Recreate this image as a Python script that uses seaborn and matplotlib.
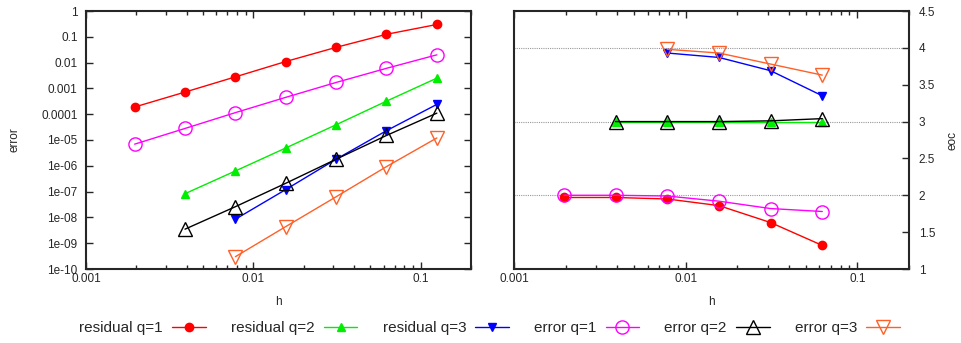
import matplotlib
matplotlib.use("Agg")
import matplotlib.pyplot as plt
import matplotlib.ticker as mticker
import numpy as np
import pandas as pd
import seaborn as sns

# mesh sizes
h = [1/512, 1/256, 1/128, 1/64, 1/32, 1/16, 1/8]

# residuals / errors (left panel), first index into h given by starts
res_q1 = [1.9e-4, 7.2e-4, 2.8e-3, 1.1e-2, 3.9e-2, 1.25e-1, 3.0e-1]
res_q2 = [8.3e-8, 6.3e-7, 4.9e-6, 3.9e-5, 3.2e-4, 2.5e-3]
res_q3 = [8.5e-9, 1.2e-7, 1.8e-6, 2.3e-5, 2.4e-4]
err_q1 = [6.9e-6, 2.8e-5, 1.15e-4, 4.5e-4, 1.7e-3, 6.0e-3, 2.0e-2]
err_q2 = [3.5e-9, 2.6e-8, 2.1e-7, 1.8e-6, 1.5e-5, 1.1e-4]
err_q3 = [3.0e-10, 4.4e-9, 6.3e-8, 9.3e-7, 1.2e-5]
starts = [0, 1, 2, 0, 1, 2]

# experimental orders of convergence (right panel)
eoc_res_q1 = [1.97, 1.97, 1.95, 1.86, 1.63, 1.32]
eoc_res_q2 = [3.00, 3.00, 3.00, 3.00, 3.00]
eoc_res_q3 = [3.93, 3.87, 3.69, 3.35]
eoc_err_q1 = [2.00, 2.00, 1.99, 1.92, 1.82, 1.78]
eoc_err_q2 = [3.00, 3.00, 3.00, 3.01, 3.04]
eoc_err_q3 = [3.98, 3.93, 3.78, 3.63]
eoc_ref = [2, 3, 4]

labels = ["residual q=1", "residual q=2", "residual q=3",
          "error q=1", "error q=2", "error q=3"]
colors = ["#ff0000", "#00ee00", "#0000ff", "#ff00ff", "#000000", "#ff6028"]
markers = ["o", "^", "v", "o", "^", "v"]
filled = [True, True, True, False, False, False]
msizes = [6, 6, 6, 9.5, 9.5, 9.5]

errs = [res_q1, res_q2, res_q3, err_q1, err_q2, err_q3]
eocs = [eoc_res_q1, eoc_res_q2, eoc_res_q3, eoc_err_q1, eoc_err_q2, eoc_err_q3]

sns.set_style("ticks")
plt.rcParams["font.family"] = ["Liberation Sans", "DejaVu Sans"]
plt.rcParams["axes.linewidth"] = 1.5
plt.rcParams["xtick.direction"] = "in"
plt.rcParams["ytick.direction"] = "in"

fig = plt.figure(figsize=(9.62, 3.43), dpi=100)
W, H = 962, 343
ax1 = fig.add_axes([86/W, (H-269)/H, 385/W, 258/H])
ax2 = fig.add_axes([514/W, (H-269)/H, 395/W, 258/H])

for y in eoc_ref:
    ax2.axhline(y, color="#999999", ls=(0, (1, 1)), lw=0.8, zorder=0)

for i in range(6):
    s = starts[i]
    xe = h[s:s+len(errs[i])]
    xo = h[s:s+len(eocs[i])]
    kw = dict(color=colors[i], marker=markers[i], markersize=msizes[i],
              markeredgecolor=colors[i], markeredgewidth=1.0,
              markerfacecolor=colors[i] if filled[i] else "none",
              linewidth=1.0)
    sns.lineplot(x=xe, y=errs[i], ax=ax1, label=labels[i], legend=False, **kw)
    sns.lineplot(x=xo, y=eocs[i], ax=ax2, legend=False, **kw)

fmt = mticker.FuncFormatter(lambda v, p: "%g" % v)
for ax in (ax1, ax2):
    ax.set_xscale("log")
    ax.set_xlim(0.001, 0.2)
    ax.xaxis.set_major_formatter(fmt)
    ax.xaxis.set_minor_locator(mticker.LogLocator(base=10, subs=range(2, 10), numticks=20))
    ax.xaxis.set_minor_formatter(mticker.NullFormatter())
    ax.tick_params(axis="x", which="both", top=True, bottom=True, labelsize=8.5, pad=3)
    ax.tick_params(which="major", length=5, width=1)
    ax.tick_params(which="minor", length=3, width=1)
    ax.set_xlabel("h", fontsize=8.5)
    ax.xaxis.set_label_coords(0.5, -0.105)
    for sp in ax.spines.values():
        sp.set_visible(True)

ax1.set_yscale("log")
ax1.set_ylim(1e-10, 1)
ax1.yaxis.set_major_locator(mticker.LogLocator(base=10, numticks=20))
ax1.yaxis.set_minor_locator(mticker.NullLocator())
ax1.yaxis.set_major_formatter(fmt)
ax1.tick_params(axis="y", left=True, right=True, labelsize=8.5, pad=6)
ax1.set_ylabel("error", fontsize=8.5)
ax1.yaxis.set_label_coords(-0.171, 0.5)

ax2.set_ylim(1, 4.5)
ax2.yaxis.set_major_locator(mticker.MultipleLocator(0.5))
ax2.yaxis.set_major_formatter(fmt)
ax2.yaxis.tick_right()
ax2.tick_params(axis="y", left=False, right=True, labelleft=False, labelright=True,
                labelsize=8.5, pad=7)
ax2.yaxis.set_label_position("right")
ax2.set_ylabel("eoc", fontsize=8.5)
ax2.yaxis.set_label_coords(1.095, 0.5)

handles, labs = ax1.get_legend_handles_labels()
fig.legend(handles, labs, loc="center", bbox_to_anchor=(0.509, 0.044), ncol=6,
           frameon=False, markerfirst=False, fontsize=11, handlelength=2.2,
           handletextpad=0.6, columnspacing=1.65, borderaxespad=0)

fig.savefig("out.png", dpi=100)
